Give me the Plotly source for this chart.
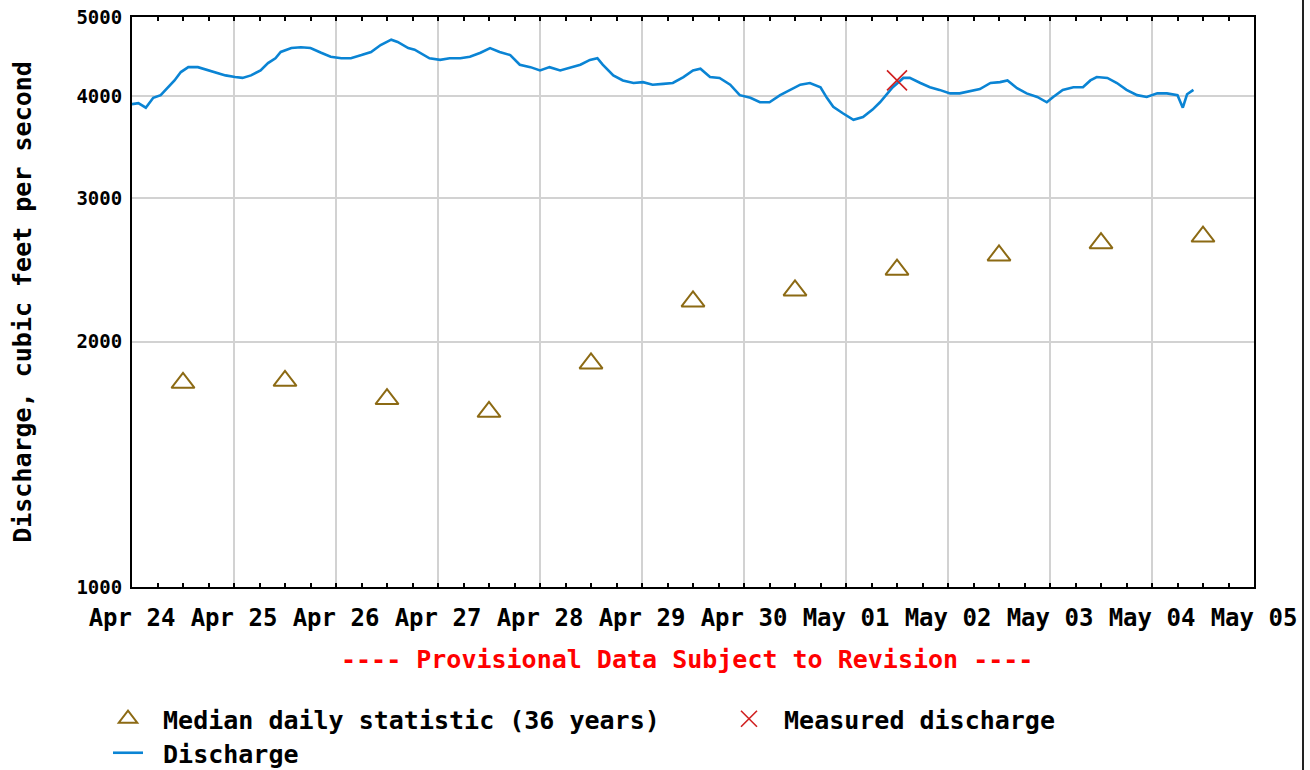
import plotly.graph_objects as go

# ---------------- data ----------------
median_dates = ["2024-04-24 12:00", "2024-04-25 12:00", "2024-04-26 12:00", "2024-04-27 12:00",
                "2024-04-28 12:00", "2024-04-29 12:00", "2024-04-30 12:00", "2024-05-01 12:00",
                "2024-05-02 12:00", "2024-05-03 12:00", "2024-05-04 12:00"]
median_cfs = [1780, 1790, 1700, 1640, 1880, 2240, 2310, 2450, 2550, 2640, 2690]

measured_dates = ["2024-05-01 12:00"]
measured_cfs = [4180]

discharge_times = [
    "2024-04-24 00:00", "2024-04-24 01:30", "2024-04-24 03:15", "2024-04-24 05:00", "2024-04-24 06:45",
    "2024-04-24 08:30", "2024-04-24 10:00", "2024-04-24 11:30", "2024-04-24 13:15", "2024-04-24 15:30",
    "2024-04-24 18:00", "2024-04-24 19:30", "2024-04-24 22:00", "2024-04-25 00:15", "2024-04-25 02:00",
    "2024-04-25 04:00", "2024-04-25 06:15", "2024-04-25 08:00", "2024-04-25 09:45", "2024-04-25 11:00",
    "2024-04-25 13:30", "2024-04-25 15:45", "2024-04-25 18:00", "2024-04-25 20:30", "2024-04-25 22:45",
    "2024-04-26 01:15", "2024-04-26 03:30", "2024-04-26 06:00", "2024-04-26 08:15", "2024-04-26 10:30",
    "2024-04-26 13:00", "2024-04-26 14:30", "2024-04-26 17:00", "2024-04-26 18:30", "2024-04-26 19:45",
    "2024-04-26 22:00", "2024-04-27 00:30", "2024-04-27 02:45", "2024-04-27 05:15", "2024-04-27 07:30",
    "2024-04-27 10:00", "2024-04-27 12:15", "2024-04-27 14:30", "2024-04-27 17:00", "2024-04-27 19:15",
    "2024-04-27 21:45", "2024-04-28 00:00", "2024-04-28 02:15", "2024-04-28 04:45", "2024-04-28 07:00",
    "2024-04-28 09:30", "2024-04-28 11:45", "2024-04-28 13:30", "2024-04-28 14:45", "2024-04-28 17:15",
    "2024-04-28 19:30", "2024-04-28 22:00", "2024-04-29 00:15", "2024-04-29 02:30", "2024-04-29 05:00",
    "2024-04-29 07:15", "2024-04-29 09:45", "2024-04-29 12:00", "2024-04-29 13:45", "2024-04-29 16:00",
    "2024-04-29 18:15", "2024-04-29 20:45", "2024-04-29 23:00", "2024-04-30 01:30", "2024-04-30 03:45",
    "2024-04-30 06:00", "2024-04-30 08:30", "2024-04-30 10:45", "2024-04-30 13:15", "2024-04-30 15:30",
    "2024-04-30 18:00", "2024-04-30 19:30", "2024-04-30 21:00", "2024-04-30 23:15", "2024-05-01 01:45",
    "2024-05-01 04:00", "2024-05-01 06:15", "2024-05-01 08:00", "2024-05-01 09:45", "2024-05-01 11:00",
    "2024-05-01 13:30", "2024-05-01 15:00", "2024-05-01 17:30", "2024-05-01 19:45", "2024-05-01 22:00",
    "2024-05-02 00:30", "2024-05-02 02:45", "2024-05-02 05:15", "2024-05-02 07:30", "2024-05-02 10:00",
    "2024-05-02 12:15", "2024-05-02 14:00", "2024-05-02 16:15", "2024-05-02 18:30", "2024-05-02 21:00",
    "2024-05-02 23:15", "2024-05-03 00:45", "2024-05-03 03:00", "2024-05-03 05:30", "2024-05-03 07:45",
    "2024-05-03 09:30", "2024-05-03 11:00", "2024-05-03 13:30", "2024-05-03 15:45", "2024-05-03 18:00",
    "2024-05-03 20:30", "2024-05-03 22:45", "2024-05-04 01:15", "2024-05-04 03:30", "2024-05-04 06:00",
    "2024-05-04 07:15", "2024-05-04 08:15", "2024-05-04 09:45",
]
discharge_cfs = [
    3910, 3920, 3870, 3980, 4010,
    4100, 4180, 4280, 4340, 4340,
    4300, 4280, 4240, 4220, 4210,
    4240, 4300, 4390, 4450, 4530,
    4580, 4590, 4580, 4520, 4470,
    4450, 4450, 4490, 4530, 4620,
    4690, 4660, 4580, 4560, 4520,
    4450, 4430, 4450, 4450, 4470,
    4520, 4580, 4530, 4490, 4370,
    4340, 4300, 4340, 4300, 4330,
    4370, 4430, 4450, 4370, 4240,
    4180, 4150, 4160, 4130, 4140,
    4150, 4220, 4300, 4320, 4220,
    4210, 4130, 4010, 3980, 3930,
    3930, 4010, 4070, 4130, 4150,
    4100, 3980, 3880, 3810, 3740,
    3770, 3850, 3930, 4030, 4100,
    4210, 4210, 4150, 4100, 4070,
    4030, 4030, 4060, 4080, 4150,
    4160, 4180, 4090, 4030, 3990,
    3930, 3990, 4070, 4100, 4100,
    4180, 4220, 4210, 4150, 4070,
    4010, 3990, 4030, 4030, 4010,
    3870, 4020, 4070,
]

x_tickvals = ["2024-04-24", "2024-04-25", "2024-04-26", "2024-04-27", "2024-04-28", "2024-04-29",
              "2024-04-30", "2024-05-01", "2024-05-02", "2024-05-03", "2024-05-04", "2024-05-05"]
x_ticktext = ["Apr 24", "Apr 25", "Apr 26", "Apr 27", "Apr 28", "Apr 29",
              "Apr 30", "May 01", "May 02", "May 03", "May 04", "May 05"]
y_tickvals = [1000, 2000, 3000, 4000, 5000]
y_ticktext = ["1000", "2000", "3000", "4000", "5000"]

# ---------------- figure ----------------
FONT = "DejaVu Sans Mono"
W, H = 1310, 770
L, R, T, B = 132, 56, 17, 183
PW, PH = W - L - R, H - T - B


def px_x(px):
    return (px - L) / PW


def px_y(py):
    return (H - B - py) / PH


fig = go.Figure()

fig.add_trace(go.Scatter(
    x=discharge_times, y=discharge_cfs, mode="lines", name=" Discharge",
    line=dict(color="#0a84d4", width=2.6), legend="legend2",
))
fig.add_trace(go.Scatter(
    x=median_dates, y=median_cfs, mode="markers", name=" Median daily statistic (36 years)",
    marker=dict(symbol="triangle-up-open", size=20, color="#8c6a14", line=dict(width=2, color="#8c6a14")),
    legend="legend",
))
fig.add_trace(go.Scatter(
    x=measured_dates, y=measured_cfs, mode="markers", name=" Measured discharge",
    marker=dict(symbol="x-thin-open", size=20, color="#d02020", line=dict(width=1.6, color="#d02020")),
    legend="legend",
))

fig.update_layout(
    width=W, height=H,
    margin=dict(l=L, r=R, t=T, b=B, autoexpand=False),
    paper_bgcolor="white", plot_bgcolor="white",
    font=dict(family=FONT, color="black", size=22, weight="bold"),
    showlegend=True,
    legend=dict(
        orientation="h", x=px_x(108), xanchor="left", y=px_y(719), yanchor="middle",
        entrywidth=576, entrywidthmode="pixels", bgcolor="rgba(0,0,0,0)",
        font=dict(family=FONT, size=25, weight="bold", color="black"),
        traceorder="normal", itemsizing="trace",
    ),
    legend2=dict(
        orientation="h", x=px_x(108), xanchor="left", y=px_y(753), yanchor="middle",
        bgcolor="rgba(0,0,0,0)",
        font=dict(family=FONT, size=25, weight="bold", color="black"),
    ),
)

fig.update_xaxes(
    type="date", range=["2024-04-24", "2024-05-05"],
    tickmode="array", tickvals=x_tickvals, ticktext=x_ticktext,
    tickfont=dict(family=FONT, size=24, weight="bold", color="black"),
    ticks="inside", ticklen=0, ticklabelstandoff=8,
    showgrid=True, gridcolor="#d2d2d2", gridwidth=2,
    showline=True, linecolor="black", linewidth=2, mirror="ticks",
    minor=dict(dtick=6 * 3600 * 1000, ticks="inside", ticklen=4, tickwidth=2,
               tickcolor="black", showgrid=False),
    zeroline=False,
)
fig.update_yaxes(
    type="log", range=[3, 3.69897],
    tickmode="array", tickvals=y_tickvals, ticktext=y_ticktext,
    tickfont=dict(family=FONT, size=19, weight="bold", color="black"),
    ticks="", ticklabelstandoff=4,
    showgrid=True, gridcolor="#d2d2d2", gridwidth=2,
    showline=True, linecolor="black", linewidth=2, mirror=True,
    zeroline=False,
    title=dict(text="Discharge, cubic feet per second", standoff=38,
               font=dict(family=FONT, size=25, weight="bold", color="black")),
)

fig.add_annotation(
    text="---- Provisional Data Subject to Revision ----",
    xref="paper", yref="paper", x=0.495, y=px_y(659), xanchor="center", yanchor="middle",
    showarrow=False, font=dict(family=FONT, size=25, weight="bold", color="#ff0000"),
)

# right border line of the original image
fig.add_shape(type="line", xref="paper", yref="paper",
              x0=px_x(1303), x1=px_x(1303), y0=px_y(770), y1=px_y(0),
              line=dict(color="#222222", width=2))

fig.write_html("out.html", config={"displayModeBar": False},
               post_script="document.body.style.margin='0';")
